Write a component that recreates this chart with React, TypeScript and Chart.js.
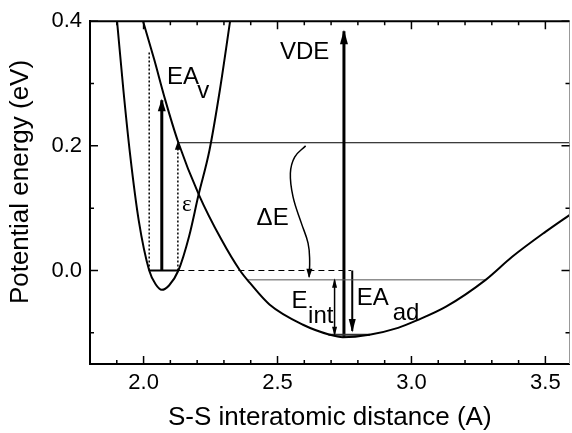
import React, { useEffect, useRef } from 'react';
import { Chart, registerables } from 'chart.js';

Chart.register(...registerables);

// ---------- data ----------
// neutral (narrow) potential curve
const neutralX = [1.901, 1.925, 1.950, 1.982, 2.021, 2.045, 2.068, 2.095, 2.130, 2.170, 2.205, 2.246, 2.285, 2.323];
const neutralY = [0.400, 0.288, 0.185, 0.080, 0.000, -0.022, -0.031, -0.024, 0.000, 0.055, 0.121, 0.193, 0.290, 0.400];

// anion (broad) potential curve
const anionX = [1.998, 2.040, 2.080, 2.130, 2.207, 2.290, 2.360, 2.397, 2.471, 2.595, 2.695, 2.744, 2.843, 2.950, 3.020, 3.129, 3.277, 3.376, 3.500, 3.600];
const anionY = [0.400, 0.338, 0.275, 0.205, 0.121, 0.050, 0.000, -0.020, -0.055, -0.087, -0.103, -0.107, -0.103, -0.092, -0.080, -0.058, -0.015, 0.022, 0.062, 0.092];

// curly ΔE arrow
const deltaEX = [2.605, 2.564, 2.548, 2.558, 2.589, 2.614, 2.620, 2.618];
const deltaEY = [0.200, 0.182, 0.156, 0.118, 0.076, 0.044, 0.017, -0.010];

// horizontal levels
const neutralLevelX = [2.021, 2.130];
const neutralLevelY = [0.0, 0.0];
const dashedZeroX = [2.130, 2.775];
const dashedZeroY = [0.0, 0.0];
const upperLevelX = [2.130, 3.600];
const upperLevelY = [0.205, 0.205];
const intLevelX = [2.390, 3.277];
const intLevelY = [-0.015, -0.015];
const anionLevelX = [2.690, 2.845];
const anionLevelY = [-0.103, -0.103];

// vertical guides and arrows
const dottedLeftX = [2.021, 2.021];
const dottedLeftY = [0.0, 0.350];
const dottedRightX = [2.128, 2.128];
const dottedRightY = [0.0, 0.205];
const eavArrowX = [2.068, 2.068];
const eavArrowY = [0.0, 0.273];
const vdeArrowX = [2.748, 2.748];
const vdeArrowY = [-0.107, 0.384];
const eintArrowX = [2.713, 2.713];
const eintArrowY = [-0.015, -0.103];
const eadArrowX = [2.779, 2.779];
const eadArrowY = [0.0, -0.097];

// axis ticks
const xTickValues = [2.0, 2.5, 3.0, 3.5];
const xMinorTicks = [1.9, 2.1, 2.2, 2.3, 2.4, 2.6, 2.7, 2.8, 2.9, 3.1, 3.2, 3.3, 3.4];
const yTickValues = [0.0, 0.2, 0.4];
const yMinorTicks = [-0.1, 0.1, 0.3];

// axis titles
const xTitle = 'S-S interatomic distance (A)';
const yTitle = 'Potential energy (eV)';

// text labels (text, anchor x, anchor y in data units)
const labelTexts = ['EA', 'v', 'VDE', 'ΔE', 'ε', 'E', 'int', 'EA', 'ad'];
const labelX = [2.087, 2.200, 2.509, 2.422, 2.143, 2.552, 2.614, 2.796, 2.930];
const labelY = [0.300, 0.276, 0.340, 0.073, 0.096, -0.060, -0.084, -0.055, -0.079];

const toPts = (xs: number[], ys: number[]) => xs.map((x, i) => ({ x, y: ys[i] }));

const SANS = "'Liberation Sans', Arial, sans-serif";

const arrowPlugin = {
  id: 'arrows',
  afterDatasetsDraw(chart: any) {
    const ctx = chart.ctx;
    chart.data.datasets.forEach((ds: any, i: number) => {
      if (!ds.arrow) return;
      const pts = chart.getDatasetMeta(i).data;
      const [len, half] = ds.arrowSize || [10, 3.5];
      const draw = (tip: any, prev: any) => {
        const dx = tip.x - prev.x;
        const dy = tip.y - prev.y;
        const d = Math.hypot(dx, dy) || 1;
        const ux = dx / d, uy = dy / d;
        const bx = tip.x - ux * len, by = tip.y - uy * len;
        ctx.save();
        ctx.fillStyle = ds.borderColor || '#000';
        ctx.beginPath();
        ctx.moveTo(tip.x + ux * 1.5, tip.y + uy * 1.5);
        ctx.lineTo(bx - uy * half, by + ux * half);
        ctx.lineTo(bx + uy * half, by - ux * half);
        ctx.closePath();
        ctx.fill();
        ctx.restore();
      };
      const n = pts.length;
      if (ds.arrow === 'end' || ds.arrow === 'both') draw(pts[n - 1], pts[n - 2]);
      if (ds.arrow === 'start' || ds.arrow === 'both') draw(pts[0], pts[1]);
    });
  },
};

const framePlugin = {
  id: 'frame',
  afterDraw(chart: any) {
    const ctx = chart.ctx;
    const { left, right, top, bottom } = chart.chartArea;
    const xs = chart.scales.x;
    const ys = chart.scales.y;
    ctx.save();
    // frame
    ctx.strokeStyle = '#000';
    ctx.lineWidth = 2;
    ctx.beginPath();
    ctx.moveTo(left, top);
    ctx.lineTo(right, top);
    ctx.stroke();
    ctx.strokeStyle = '#999';
    ctx.lineWidth = 1;
    ctx.beginPath();
    ctx.moveTo(right, top);
    ctx.lineTo(right, bottom);
    ctx.stroke();
    // inward ticks
    ctx.strokeStyle = '#000';
    ctx.lineWidth = 1.5;
    const tickX = (v: number, l: number) => {
      const p = xs.getPixelForValue(v);
      ctx.beginPath();
      ctx.moveTo(p, bottom);
      ctx.lineTo(p, bottom - l);
      ctx.moveTo(p, top);
      ctx.lineTo(p, top + l);
      ctx.stroke();
    };
    const tickY = (v: number, l: number) => {
      const p = ys.getPixelForValue(v);
      ctx.beginPath();
      ctx.moveTo(left, p);
      ctx.lineTo(left + l, p);
      ctx.moveTo(right, p);
      ctx.lineTo(right - l, p);
      ctx.stroke();
    };
    xTickValues.forEach((v) => tickX(v, 8));
    xMinorTicks.forEach((v) => tickX(v, 4));
    yTickValues.forEach((v) => tickY(v, 8));
    yMinorTicks.forEach((v) => tickY(v, 4));
    // in-plot labels
    ctx.fillStyle = '#000';
    ctx.textBaseline = 'alphabetic';
    ctx.textAlign = 'left';
    labelTexts.forEach((t, i) => {
      ctx.font = t === 'ε' ? "23px 'Liberation Serif', serif" : `24px ${SANS}`;
      ctx.fillText(t, xs.getPixelForValue(labelX[i]), ys.getPixelForValue(labelY[i]));
    });
    // y-axis title
    ctx.font = `26px ${SANS}`;
    ctx.textAlign = 'center';
    ctx.textBaseline = 'middle';
    ctx.translate(21, 182);
    ctx.rotate(-Math.PI / 2);
    ctx.fillText(yTitle, 0, 0);
    ctx.restore();
  },
};

const line = (xs: number[], ys: number[], extra: any = {}) => ({
  data: toPts(xs, ys),
  showLine: true,
  borderColor: '#000',
  borderWidth: 1,
  pointRadius: 0,
  pointHoverRadius: 0,
  fill: false,
  ...extra,
});

export default function App() {
  const ref = useRef<HTMLCanvasElement>(null);
  useEffect(() => {
    if (!ref.current) return;
    Chart.defaults.font.family = SANS;
    Chart.defaults.color = '#000';
    const chart = new Chart(ref.current, {
      type: 'scatter',
      data: {
        datasets: [
          line(neutralX, neutralY, { borderWidth: 2, cubicInterpolationMode: 'monotone' }),
          line(anionX, anionY, { borderWidth: 2, cubicInterpolationMode: 'monotone' }),
          line(neutralLevelX, neutralLevelY, { borderWidth: 2 }),
          line(dashedZeroX, dashedZeroY, { borderWidth: 1, borderDash: [6, 4] }),
          line(upperLevelX, upperLevelY, { borderWidth: 1 }),
          line(intLevelX, intLevelY, { borderWidth: 1, borderColor: '#555' }),
          line(anionLevelX, anionLevelY, { borderWidth: 2, borderColor: '#333' }),
          line(dottedLeftX, dottedLeftY, { borderWidth: 1.5, borderDash: [2, 2] }),
          line(dottedRightX, dottedRightY, { borderWidth: 1.5, borderDash: [2, 2], arrow: 'end', arrowSize: [7, 3] }),
          line(eavArrowX, eavArrowY, { borderWidth: 3, arrow: 'end', arrowSize: [11, 4] }),
          line(vdeArrowX, vdeArrowY, { borderWidth: 3, arrow: 'end', arrowSize: [13, 4] }),
          line(eintArrowX, eintArrowY, { borderWidth: 1.5, arrow: 'both', arrowSize: [8, 2.5] }),
          line(eadArrowX, eadArrowY, { borderWidth: 2, arrow: 'end', arrowSize: [12, 3.5] }),
          line(deltaEX, deltaEY, { borderWidth: 1.5, tension: 0.4, arrow: 'end', arrowSize: [8, 3] }),
        ] as any,
      },
      options: {
        animation: false,
        responsive: false,
        devicePixelRatio: 1,
        layout: { padding: { top: 20, right: 2.5, left: 0, bottom: 0 } },
        plugins: { legend: { display: false }, tooltip: { enabled: false } },
        events: [],
        scales: {
          x: {
            type: 'linear',
            position: 'bottom',
            min: 1.8,
            max: 3.59,
            afterBuildTicks: (s: any) => {
              s.ticks = xTickValues.map((v) => ({ value: v }));
            },
            afterFit: (s: any) => {
              s.height = 69;
            },
            ticks: {
              callback: (v: any) => Number(v).toFixed(1),
              font: { size: 22 },
              padding: 6,
              maxRotation: 0,
            },
            grid: { drawOnChartArea: false, drawTicks: false },
            border: { display: true, color: '#000', width: 2 },
            title: {
              display: true,
              text: xTitle,
              font: { size: 26 },
              padding: { top: 0, bottom: 0 },
            },
          },
          y: {
            type: 'linear',
            min: -0.15,
            max: 0.4,
            afterBuildTicks: (s: any) => {
              s.ticks = yTickValues.map((v) => ({ value: v }));
            },
            afterFit: (s: any) => {
              s.width = 90;
            },
            ticks: {
              callback: (v: any) => Number(v).toFixed(1),
              font: { size: 22 },
              padding: 8,
            },
            grid: { drawOnChartArea: false, drawTicks: false },
            border: { display: true, color: '#000', width: 2 },
            title: { display: false },
          },
        },
      },
      plugins: [arrowPlugin, framePlugin],
    } as any);
    return () => chart.destroy();
  }, []);
  return (
    <div style={{ position: 'absolute', left: 0, top: 0, width: 572, height: 433, background: '#fff' }}>
      <canvas ref={ref} width={572} height={433} />
    </div>
  );
}
